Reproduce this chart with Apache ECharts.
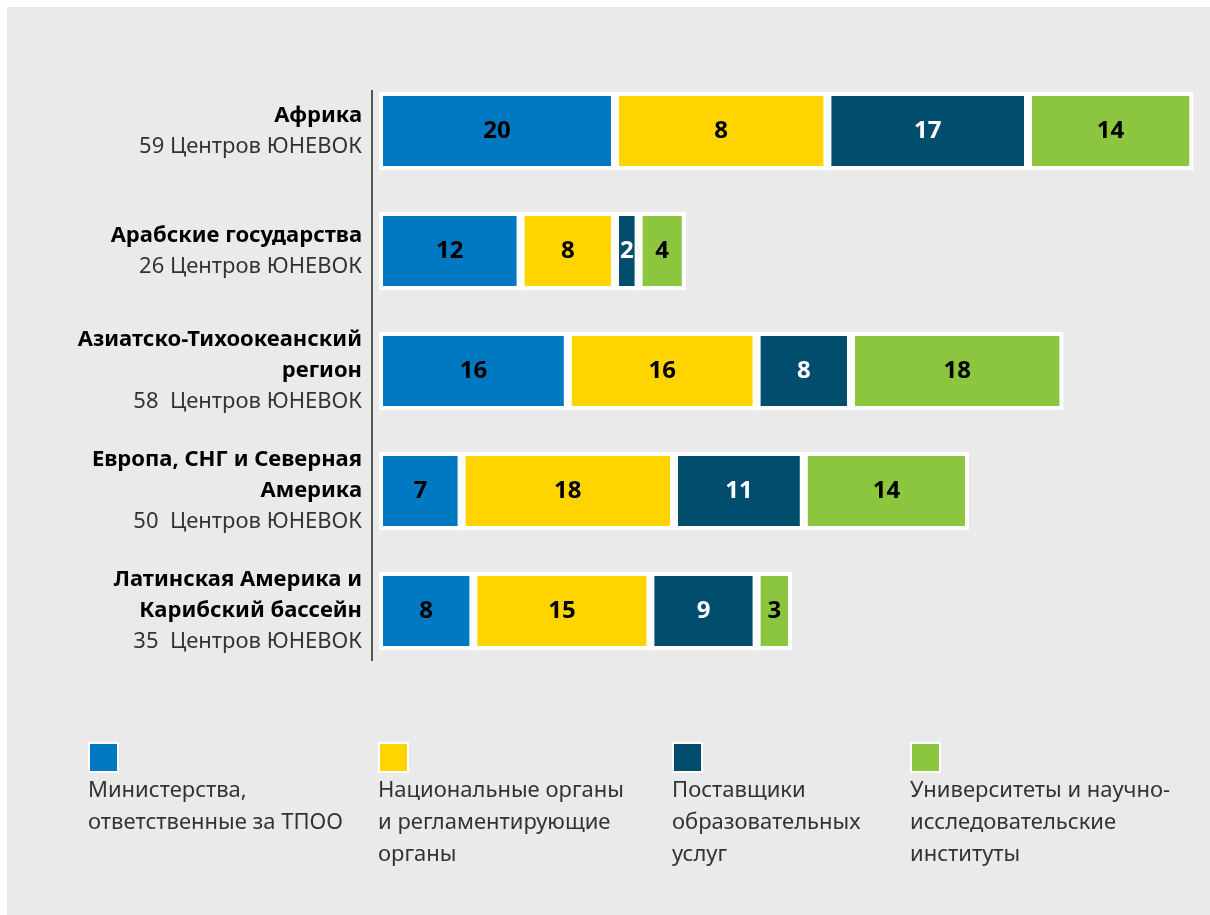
<!DOCTYPE html>
<html>
<head>
<meta charset="utf-8">
<script src="https://cdn.jsdelivr.net/npm/echarts@6/dist/echarts.min.js"></script>
<style>
html,body{margin:0;padding:0;background:#eaeaea;}
#c{width:1210px;height:915px;}
</style>
</head>
<body>
<div id="c"></div>
<script>
// ---- data ----
const regions = ['Африка', 'Арабские государства', 'Азиатско-Тихоокеанский\nрегион', 'Европа, СНГ и Северная\nАмерика', 'Латинская Америка и\nКарибский бассейн'];
const centerCounts = ['59 Центров ЮНЕВОК', '26 Центров ЮНЕВОК', '58  Центров ЮНЕВОК', '50  Центров ЮНЕВОК', '35  Центров ЮНЕВОК'];
const seriesNames = ['Министерства,\nответственные за ТПОО', 'Национальные органы\nи регламентирующие\nорганы', 'Поставщики\nобразовательных\nуслуг', 'Университеты и научно-\nисследовательские\nинституты'];
// bar lengths as drawn in the picture
const ministries   = [20, 12, 16, 7, 8];
const national     = [18, 8, 16, 18, 15];
const providers    = [17, 2, 8, 11, 9];
const universities = [14, 4, 18, 14, 3];
// printed labels
const ministriesLbl   = ['20', '12', '16', '7', '8'];
const nationalLbl     = ['8', '8', '16', '18', '15'];
const providersLbl    = ['17', '2', '8', '11', '9'];
const universitiesLbl = ['14', '4', '18', '14', '3'];
const colors = ['#0079c2', '#ffd400', '#004d6d', '#8cc63f'];

const values = [ministries, national, providers, universities];
const labels = [ministriesLbl, nationalLbl, providersLbl, universitiesLbl];
const font = '"Noto Sans", "Open Sans", sans-serif';

const chart = echarts.init(document.getElementById('c'), null, {renderer: 'canvas'});

const series = values.map((v, i) => ({
  name: seriesNames[i],
  type: 'bar',
  stack: 'total',
  data: v,
  barWidth: 78,
  itemStyle: {color: colors[i], borderColor: '#ffffff', borderWidth: 4},
  label: {
    show: true,
    position: 'inside',
    formatter: p => labels[i][p.dataIndex],
    color: i === 2 ? '#ffffff' : '#000000',
    fontFamily: font,
    fontWeight: 'bold',
    fontSize: 24
  },
  emphasis: {disabled: true}
}));

const legendLeft = [88, 378, 672, 910];
const legends = seriesNames.map((n, i) => ({
  data: [n],
  left: legendLeft[i],
  top: 742,
  itemWidth: 29,
  itemHeight: 29,
  icon: 'rect',
  formatter: () => '',
  selectedMode: false,
  padding: 0
}));

const legendTexts = seriesNames.map((n, i) => ({
  type: 'text',
  left: legendLeft[i],
  top: 775,
  silent: true,
  style: {
    text: n,
    fontFamily: font,
    fontSize: 22,
    lineHeight: 32,
    fill: '#333333'
  }
}));

chart.setOption({
  backgroundColor: '#eaeaea',
  animation: false,
  grid: {left: 379, right: 5, top: 71, height: 600},
  xAxis: {type: 'value', min: 0, max: 70, show: false},
  yAxis: {
    type: 'category',
    data: regions,
    inverse: true,
    axisLine: {show: false},
    axisTick: {show: false},
    axisLabel: {
      margin: 17,
      align: 'right',
      formatter: (v, idx) => '{b|' + v.split('\n').join('}\n{b|') + '}\n{n|' + centerCounts[idx] + '}',
      rich: {
        b: {fontFamily: font, fontWeight: 'bold', fontSize: 22, lineHeight: 31, color: '#000000', align: 'right'},
        n: {fontFamily: font, fontSize: 22, lineHeight: 31, color: '#333333', align: 'right'}
      }
    }
  },
  legend: legends,
  graphic: [
    {type: 'rect', z: -100, silent: true, shape: {x: 0, y: 0, width: 1210, height: 7}, style: {fill: '#ffffff'}},
    {type: 'rect', z: -100, silent: true, shape: {x: 0, y: 0, width: 7, height: 915}, style: {fill: '#ffffff'}},
    {type: 'line', z: 1, silent: true, shape: {x1: 372, y1: 90, x2: 372, y2: 661}, style: {stroke: '#555555', lineWidth: 2}}
  ].concat(legendTexts),
  series: series
});
</script>
</body>
</html>
